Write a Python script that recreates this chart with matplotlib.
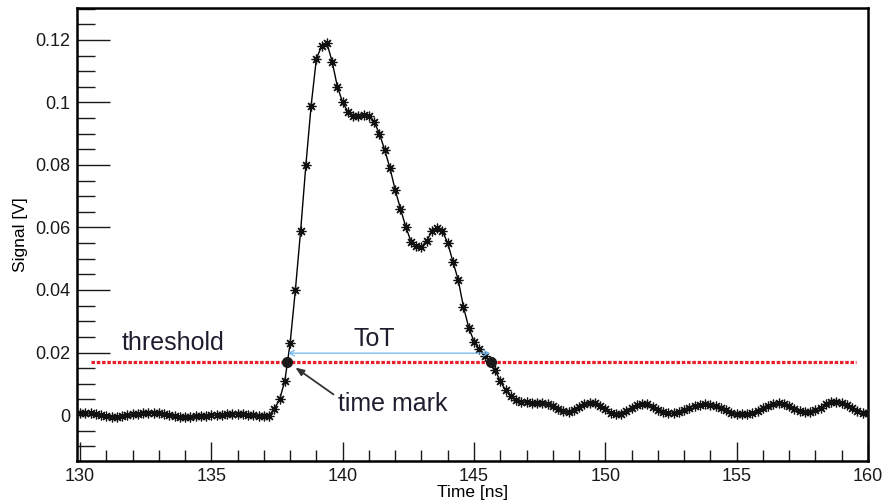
import matplotlib
matplotlib.use("Agg")
import matplotlib.pyplot as plt
import numpy as np
from matplotlib.ticker import MultipleLocator, FuncFormatter

plt.rcParams['font.family'] = ['Liberation Sans', 'DejaVu Sans']

# --- data ---
t_start, t_step = 130.0, 0.2
signal = [
    # 130.0 - 137.2
    0.0006, 0.0006, 0.0005, 0.0003, 0.0000, -0.0003, -0.0005, -0.0005, -0.0003, 0.0000,
    0.0002, 0.0004, 0.0006, 0.0008, 0.0008, 0.0006, 0.0003, 0.0000, -0.0004, -0.0006,
    -0.0006, -0.0005, -0.0004, -0.0003, -0.0002, -0.0001, 0.0000, 0.0001, 0.0002, 0.0003,
    0.0003, 0.0003, 0.0001, 0.0000, -0.0002, -0.0003, -0.0002,
    # 137.4 - 147.0
    0.002, 0.005, 0.011, 0.023, 0.040, 0.059, 0.080, 0.099, 0.114, 0.118,
    0.119, 0.113, 0.105, 0.100, 0.097, 0.0958, 0.0957, 0.0960, 0.0957, 0.0937,
    0.090, 0.0848, 0.079, 0.072, 0.066, 0.0603, 0.0555, 0.054, 0.0538, 0.0558,
    0.0588, 0.0598, 0.0588, 0.055, 0.049, 0.0432, 0.0345, 0.028, 0.0235, 0.021,
    0.019, 0.0172, 0.0145, 0.0108, 0.008, 0.006, 0.0048, 0.0043, 0.0041,
    # 147.2 - 160.0
    0.0040, 0.0040, 0.0039, 0.0035, 0.0028, 0.0019, 0.0012, 0.0010, 0.0015, 0.0025,
    0.0035, 0.0039, 0.0037, 0.0028, 0.0018, 0.0008, 0.0003, 0.0004, 0.0012, 0.0022,
    0.0031, 0.0035, 0.0034, 0.0026, 0.0017, 0.0009, 0.0005, 0.0005, 0.0010, 0.0017,
    0.0024, 0.0030, 0.0033, 0.0034, 0.0033, 0.0029, 0.0022, 0.0015, 0.0008, 0.0004,
    0.0002, 0.0002, 0.0005, 0.0012, 0.0021, 0.0030, 0.0035, 0.0037, 0.0035, 0.0028,
    0.0020, 0.0013, 0.0010, 0.0010, 0.0015, 0.0024, 0.0034, 0.0041, 0.0043, 0.0040,
    0.0032, 0.0022, 0.0014, 0.0008, 0.0005,
]
time = [round(t_start + i * t_step, 1) for i in range(len(signal))]

threshold = 0.017
threshold_range = [130.4, 159.55]
time_marks = [137.88, 145.65]
tot_y = 0.0198

x_ticks = [130, 135, 140, 145, 150, 155, 160]
y_ticks = [0, 0.02, 0.04, 0.06, 0.08, 0.1, 0.12]

# --- figure ---
fig = plt.figure(figsize=(8.83, 5.03), dpi=100)
ax = fig.add_axes([77/883, 1-461/503, (868-77)/883, (461-8)/503])

ax.plot(time, signal, color='black', lw=1.0, marker=(8, 2, 0), ms=7,
        mew=0.9, mec='#111111', zorder=3)

ax.plot(threshold_range, [threshold, threshold], color='#e8202a', lw=2.3,
        linestyle=(0, (1.1, 0.55)), zorder=4)

ax.plot(time_marks, [threshold, threshold], 'o', color='#1a1a1a', ms=7, zorder=5)

# ToT arrow
ax.annotate('', xy=(time_marks[1] - 0.05, tot_y), xytext=(time_marks[0] + 0.05, tot_y),
            arrowprops=dict(arrowstyle='<->,head_length=0.35,head_width=0.2',
                            color='#6fb6ee', lw=0.9, shrinkA=0, shrinkB=0), zorder=4)
ax.text(141.2, 0.0222, 'ToT', fontsize=18, color='#1e1e2e', ha='center', va='baseline')
ax.text(133.55, 0.0207, 'threshold', fontsize=18, color='#1e1e2e', ha='center', va='baseline')

# time mark annotation
ax.annotate('', xy=(138.2, 0.0152), xytext=(139.65, 0.0066),
            arrowprops=dict(arrowstyle='-|>,head_length=0.5,head_width=0.2',
                            color='#333333', lw=1.3, shrinkA=0, shrinkB=0), zorder=5)
ax.text(141.9, 0.0013, 'time mark', fontsize=18, color='#1e1e2e', ha='center', va='baseline')

ax.set_xlim(129.886, 160.0)
ax.set_ylim(-0.0147, 0.1302)

ax.set_xticks(x_ticks)
ax.set_yticks(y_ticks)
ax.xaxis.set_minor_locator(MultipleLocator(1))
ax.yaxis.set_minor_locator(MultipleLocator(0.005))
ax.yaxis.set_major_formatter(FuncFormatter(lambda v, p: ('%g' % round(v, 4))))

ax.tick_params(axis='both', which='both', direction='in', top=False, right=False,
               labelsize=13, colors='#1a1a1a', width=1.0)
ax.tick_params(axis='y', which='major', length=24, pad=5)
ax.tick_params(axis='y', which='minor', length=13)
ax.tick_params(axis='x', which='major', length=14, pad=5)
ax.tick_params(axis='x', which='minor', length=8)

for s in ax.spines.values():
    s.set_linewidth(1.8)
    s.set_color('black')

ax.set_xlabel('Time [ns]', fontsize=12.5, labelpad=0)
ax.set_ylabel('Signal [V]', fontsize=12.5, labelpad=5)

fig.savefig('out.png', dpi=100)
